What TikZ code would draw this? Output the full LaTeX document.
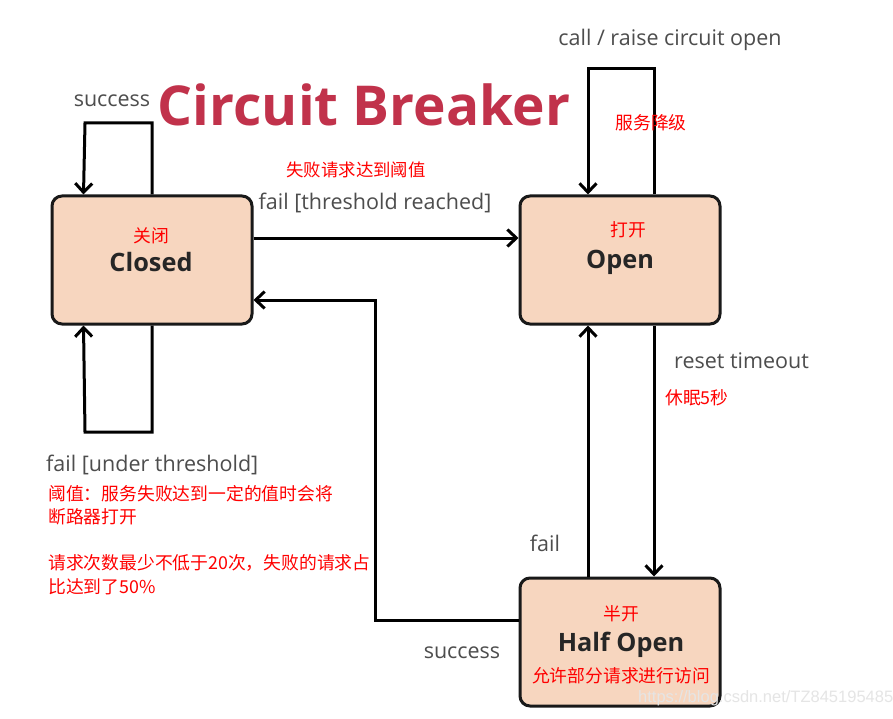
\documentclass[tikz,border=0pt]{standalone}
\usepackage{fontspec}
\setmainfont{Open Sans}
\newfontfamily\cjk{Noto Sans CJK SC}
\newfontfamily\wmfont{Liberation Sans}
\usetikzlibrary{arrows.meta}
\definecolor{peach}{HTML}{F7D6BF}
\definecolor{txtgray}{HTML}{4D4D4D}
\definecolor{titlered}{HTML}{C1324B}
\begin{document}
\begin{tikzpicture}[x=1pt,y=-1pt,
 state/.style={draw=black!90, line width=3pt, fill=peach, rounded corners=10pt, minimum width=200pt, minimum height=128pt, inner sep=0pt},
 conn/.style={line width=3pt, -{Straight Barb[length=9pt,width=17pt,line width=3pt]}},
 lbl/.style={text=txtgray, font=\fontsize{21.5}{25}\selectfont, inner sep=0pt},
 cn/.style={text=red, font=\cjk\fontsize{17.8}{23}\selectfont, inner sep=0pt},
 sname/.style={font=\bfseries\fontsize{25.3}{30}\selectfont, text=black!85, inner sep=0pt}]
\useasboundingbox[fill=white] (0,0) rectangle (893,719);

% states
\node[state] (closed) at (152,260) {};
\node[state] (open) at (620,260) {};
\node[state] (half) at (620,642) {};

\node[cn] (tclosedcn) at (151,236) {关闭};
\node[sname] (tclosed) at (151,262) {Closed};
\node[cn] (topencn) at (628,230) {打开};
\node[sname] (topen) at (620,262) {Open};
\node[cn] (thalfcn) at (621,614) {半开};
\node[sname] (thalf) at (621,645) {Half Open};
\node[cn] (thalfnote) at (621,676) {允许部分请求进行访问};

% connectors
\draw[conn] (closed.north) -- (152,123) -- (85,123) -- ([xshift=33pt]closed.north west);
\draw[conn] (closed.south) -- (152,432) -- (85,432) -- ([xshift=33pt]closed.south west);
\draw[conn] ([yshift=22pt]closed.east) -- ([yshift=22pt]open.west);
\draw[conn] ([yshift=22pt]half.west) -- (375,620) -- (375,300) -- ([yshift=-40pt]closed.east);
\draw[conn] ([xshift=34pt]open.north) -- (654,69) -- (588,69) -- ([xshift=-32pt]open.north);
\draw[conn] ([xshift=-32pt]half.north) -- ([xshift=-32pt]open.south);
\draw[conn] ([xshift=34pt]open.south) -- ([xshift=34pt]half.north);

% title
\node[text=titlered, font=\bfseries\fontsize{55}{60}\selectfont, inner sep=0pt] (title) at (364,105) {Circuit Breaker};

% labels
\node[lbl] (lsucc) at (112,101) {success};
\node[cn, font=\cjk\fontsize{17.4}{23}\selectfont] (lfailcn) at (356,170) {失败请求达到阈值};
\node[lbl] (lfailthr) at (375,203) {fail [threshold reached]};
\node[lbl] (lcall) at (670,40) {call / raise circuit open};
\node[cn] (ldegrade) at (651,123) {服务降级};
\node[lbl, anchor=west] (lreset) at (674,361) {reset timeout};
\node[cn, anchor=west] (lsleep) at (665,398) {休眠5秒};
\node[lbl, anchor=west] (lunder) at (46,465) {fail [under threshold]};
\node[cn, anchor=north west, align=left, font=\cjk\fontsize{17.8}{23.5}\selectfont] (lnote) at (48,485) {阈值：服务失败达到一定的值时会将\\断路器打开\\[22.5pt]请求次数最少不低于20次，失败的请求占\\比达到了50\%};
\node[lbl] (lfail) at (545,543) {fail};
\node[lbl] (lsucc2) at (462,653) {success};

% watermark
\node[text=white!80!gray, font=\wmfont\fontsize{16.5}{20}\selectfont, anchor=west, inner sep=0pt] (wm) at (638,698) {https://blog.csdn.net/TZ845195485};
\end{tikzpicture}
\end{document}
